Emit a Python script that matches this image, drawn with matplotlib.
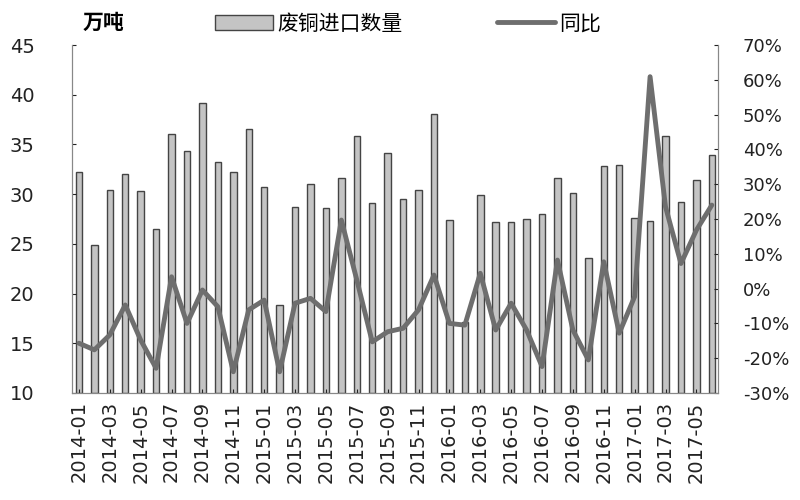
import matplotlib
matplotlib.use("Agg")
import matplotlib.pyplot as plt
import numpy as np

plt.rcParams['font.family'] = ['Noto Sans CJK SC', 'DejaVu Sans']

# monthly data 2014-01 .. 2017-06
months = ["%d-%02d" % (y, m) for y in range(2014, 2018) for m in range(1, 13)][:42]

imports = [32.2, 24.9, 30.4, 32.0, 30.3, 26.5, 36.0, 34.3, 39.2, 33.2, 32.2, 36.6,
           30.7, 18.9, 28.7, 31.0, 28.6, 31.6, 35.8, 29.1, 34.1, 29.5, 30.4, 38.1,
           27.4, 17.1, 29.9, 27.2, 27.2, 27.5, 28.0, 31.6, 30.1, 23.6, 32.8, 32.9,
           27.6, 27.3, 35.8, 29.2, 31.4, 33.9]

yoy = [-15.7, -17.6, -13.3, -4.7, -14.8, -22.9, 3.4, -10.0, -0.4, -5.2, -23.9, -6.1,
       -3.3, -23.9, -4.2, -2.8, -6.6, 19.7, 2.5, -15.3, -12.4, -11.4, -6.1, 3.9,
       -10.0, -10.5, 4.4, -11.9, -4.2, -11.9, -22.4, 8.2, -11.9, -20.5, 7.7, -12.8,
       -2.3, 60.9, 23.5, 7.2, 16.8, 24.0]

x = np.arange(len(months))

fig = plt.figure(figsize=(8, 5), dpi=100)
ax = fig.add_axes([0.09, 0.214, 0.8075, 0.696])

ax.bar(x, np.array(imports) - 10, bottom=10, width=0.42, color='#c4c4c4',
       edgecolor='#444444', linewidth=1.0, label='废铜进口数量')
ax.set_ylim(10, 45)
ax.set_xlim(-0.45, len(months) - 0.6)
ax.set_yticks(range(10, 46, 5))

ax2 = ax.twinx()
ax2.plot(x, yoy, color='#6e6e6e', linewidth=3.5, solid_joinstyle='round',
         solid_capstyle='round', label='同比')
ax2.set_ylim(-30, 70)
ax2.set_yticks(range(-30, 71, 10))
ax2.set_yticklabels(["%d%%" % v for v in range(-30, 71, 10)])

ax.set_xticks(x[::2])
ax.set_xticklabels(months[::2], rotation=90, fontsize=14, family=['DejaVu Sans'])

for a in (ax, ax2):
    for s in a.spines.values():
        s.set_color('#888888')
    a.spines['top'].set_visible(False)
ax.tick_params(axis='y', direction='in', length=3, labelsize=14, colors='#222222', pad=27)
ax2.tick_params(axis='y', direction='in', length=3, labelsize=13, colors='#222222', pad=18)
ax.tick_params(axis='x', direction='in', length=3, colors='#222222', pad=6)
for lbl in ax.get_yticklabels() + ax2.get_yticklabels():
    lbl.set_family(['DejaVu Sans'])

fig.text(0.103, 0.955, '万吨', fontsize=15, fontweight='bold', ha='left', va='center')

h1, l1 = ax.get_legend_handles_labels()
h2, l2 = ax2.get_legend_handles_labels()
fig.legend(h1 + h2, l1 + l2, loc='center', bbox_to_anchor=(0.51, 0.953), ncol=2,
           frameon=False, fontsize=15, columnspacing=4.5, handlelength=2.8,
           handletextpad=0.2)

fig.savefig('out.png', dpi=100)
